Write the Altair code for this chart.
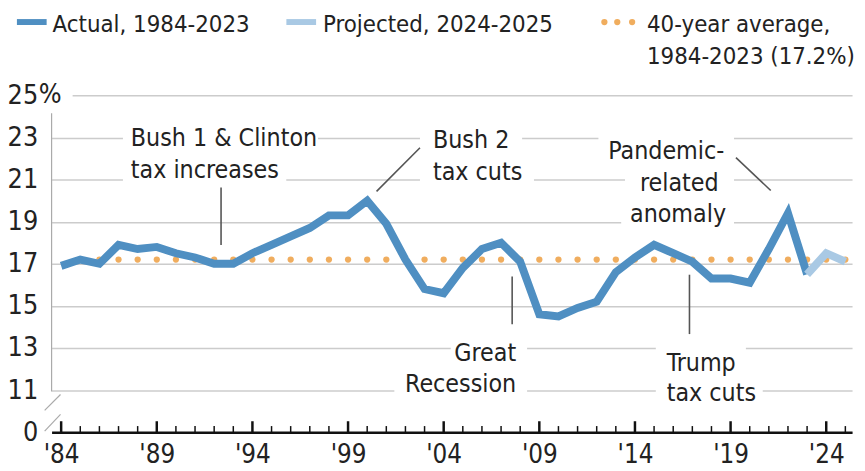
import altair as alt
import pandas as pd

# ---- data ----
years = list(range(1984, 2024))
actual = [16.9, 17.2, 17.0, 17.9, 17.7, 17.8, 17.5, 17.3, 17.0, 17.0,
          17.5, 17.9, 18.3, 18.7, 19.3, 19.3, 20.0, 18.9, 17.2, 15.8,
          15.6, 16.8, 17.7, 18.0, 17.1, 14.6, 14.5, 14.9, 15.2, 16.6,
          17.3, 17.9, 17.5, 17.1, 16.3, 16.3, 16.1, 17.7, 19.4, 16.5]
proj_years = [2023, 2024, 2025]
projected = [16.5, 17.5, 17.1]
avg_years = list(range(1986, 2026))
avg_value = 17.2
y_tick_values = [9, 11, 13, 15, 17, 19, 21, 23, 25]
x_label_years = [1984, 1989, 1994, 1999, 2004, 2009, 2014, 2019, 2024]
tick_years = list(range(1984, 2026))

# annotations (text, year, value)
ann_left_text = ["Bush 1 & Clinton", "tax increases", "Bush 2", "tax cuts",
                 "Pandemic-", "related", "anomaly", "Trump", "tax cuts"]
ann_left_x = [1987.64, 1987.64, 2003.44, 2003.44, 2012.60, 2014.26, 2013.74, 2015.66, 2015.66]
ann_left_y = [22.6, 21.09, 22.51, 21.0, 21.99, 20.48, 18.98, 11.92, 10.46]
ann_right_text = ["Great", "Recession"]
ann_right_x = [2007.79, 2007.79]
ann_right_y = [12.39, 10.93]

# white backgrounds that break gridlines behind labels
bg_x1 = [1987.23, 2002.76, 2012.09, 1987.23, 2002.76, 2013.48, 2013.28, 2004.37, 2015.09, 2001.42, 2015.09, 1983.5]
bg_x2 = [1997.43, 2008.10, 2019.18, 1995.77, 2008.72, 2019.18, 2019.18, 2008.36, 2019.80, 2008.36, 2020.68, 1984.6]
bg_y = [23, 23, 23, 21, 21, 21, 19, 13, 13, 11, 11, 25]

# pointer lines
ptr_x1 = [1992.36, 2002.76, 2019.28, 2007.58, 2016.85]
ptr_x2 = [1992.36, 2000.49, 2021.10, 2007.58, 2016.85]
ptr_y1 = [20.62, 22.51, 22.04, 16.39, 16.48]
ptr_y2 = [17.89, 20.44, 20.48, 14.13, 13.66]

C_ACT = "#4f8fc2"
C_PROJ = "#a9c9e4"
C_AVG = "#f0ad5e"
C_TXT = "#222222"
C_GRID = "#cccccc"
FONT = "'Liberation Sans Narrow', 'DejaVu Sans Condensed', 'Roboto Condensed', Lato, sans-serif"
FS = 25
FS_LEG = 24
FS_AX = 27
FS_XL = 26

df_act = pd.DataFrame({"year": years, "val": actual})
df_proj = pd.DataFrame({"year": proj_years, "val": projected})
df_avg = pd.DataFrame({"year": avg_years, "val": [avg_value] * len(avg_years)})
df_ticks = pd.DataFrame({"year": tick_years})
df_ticks["major"] = (df_ticks["year"] - 1984) % 5 == 0
df_ticks["val"] = 9.0
df_ticks["top"] = df_ticks["major"].map({True: 9.52, False: 9.29})
df_ann_l = pd.DataFrame({"t": ann_left_text, "year": ann_left_x, "val": ann_left_y})
df_ann_r = pd.DataFrame({"t": ann_right_text, "year": ann_right_x, "val": ann_right_y})
df_bg = pd.DataFrame({"year": bg_x1, "year2": bg_x2,
                      "val": [v - 0.35 for v in bg_y], "val2": [v + 0.35 for v in bg_y]})
df_ptr = pd.DataFrame({"year": ptr_x1, "year2": ptr_x2, "val": ptr_y1, "val2": ptr_y2})
dummy = pd.DataFrame({"a": [0]})

xs = alt.Scale(domain=[1983.5, 2025.35], nice=False, zero=False)
ys = alt.Scale(domain=[9, 25], nice=False, zero=False)

x_axis = alt.Axis(values=x_label_years,
                  labelExpr="\"'\" + substring(toString(datum.value), 2)",
                  ticks=False, grid=False, domainColor="#111111", domainWidth=2.5,
                  labelFontSize=FS_XL, labelPadding=10, labelColor=C_TXT, labelFont=FONT,
                  title=None)
y_axis = alt.Axis(values=y_tick_values,
                  labelExpr="datum.value == 9 ? '0' : format(datum.value, 'd')",
                  ticks=False, domain=False, grid=True, gridColor=C_GRID, gridWidth=1.5,
                  labelPadding=14, labelFontSize=FS_AX, labelColor=C_TXT, labelFont=FONT,
                  title=None)

def X(f="year"):
    return alt.X(f"{f}:Q", scale=xs, axis=x_axis)

def Y(f="val"):
    return alt.Y(f"{f}:Q", scale=ys, axis=y_axis)

avg_layer = alt.Chart(df_avg).mark_circle(size=40, opacity=1, color=C_AVG).encode(x=X(), y=Y())
bg_layer = alt.Chart(df_bg).mark_rect(color="white").encode(
    x=X(), x2="year2:Q", y=Y(), y2="val2:Q")
ptr_layer = alt.Chart(df_ptr).mark_rule(color="#555555", strokeWidth=1.6).encode(
    x=X(), x2="year2:Q", y=Y(), y2="val2:Q")
act_layer = alt.Chart(df_act).mark_line(color=C_ACT, strokeWidth=8).encode(x=X(), y=Y())
proj_layer = alt.Chart(df_proj).mark_line(color=C_PROJ, strokeWidth=8).encode(x=X(), y=Y())
tick_layer = alt.Chart(df_ticks).mark_rule(color="#111111").encode(
    x=X(), y=Y(), y2="top:Q",
    strokeWidth=alt.condition("datum.major", alt.value(2.5), alt.value(1.5)))
ann_l_layer = alt.Chart(df_ann_l).mark_text(align="left", baseline="alphabetic",
                                            font=FONT, fontSize=FS, color=C_TXT).encode(
    x=X(), y=Y(), text="t:N")
ann_r_layer = alt.Chart(df_ann_r).mark_text(align="right", baseline="alphabetic",
                                            font=FONT, fontSize=FS, color=C_TXT).encode(
    x=X(), y=Y(), text="t:N")

# y axis line with break marks
yline = alt.Chart(dummy).mark_rule(color="#aaaaaa", strokeWidth=1.2).encode(
    x=alt.value(0), y=alt.value(18), y2=alt.value(299))
slash1 = alt.Chart(dummy).mark_rule(color="#aaaaaa", strokeWidth=1.2).encode(
    x=alt.value(-7), x2=alt.value(9), y=alt.value(318), y2=alt.value(302))
slash2 = alt.Chart(dummy).mark_rule(color="#aaaaaa", strokeWidth=1.2).encode(
    x=alt.value(-7), x2=alt.value(9), y=alt.value(339), y2=alt.value(322))
pct = alt.Chart(pd.DataFrame({"val": [25]})).mark_text(
    align="left", baseline="middle", font=FONT, fontSize=FS_AX, color=C_TXT).encode(
    x=alt.value(-13), y=Y(), text=alt.value("%"))

# legend
def ltext(t, x, y):
    return alt.Chart(dummy).mark_text(align="left", baseline="alphabetic", font=FONT,
                                      fontSize=FS_LEG, color=C_TXT).encode(
        x=alt.value(x), y=alt.value(y), text=alt.value(t))

def lswatch(c, x1, x2):
    return alt.Chart(dummy).mark_rule(color=c, strokeWidth=6).encode(
        x=alt.value(x1), x2=alt.value(x2), y=alt.value(-74))

def ldot(x):
    return alt.Chart(dummy).mark_circle(size=40, opacity=1, color=C_AVG).encode(
        x=alt.value(x), y=alt.value(-74))

legend = [lswatch(C_ACT, -35, -5), ltext("Actual, 1984-2023", 1, -64),
          lswatch(C_PROJ, 237, 267), ltext("Projected, 2024-2025", 274, -64),
          ldot(558), ldot(571), ldot(586),
          ltext("40-year average,", 601, -64), ltext("1984-2023 (17.2%)", 601, -32)]

chart = alt.layer(
    avg_layer, bg_layer, ptr_layer, act_layer, proj_layer, tick_layer,
    ann_l_layer, ann_r_layer, yline, slash1, slash2, pct, *legend
).properties(
    width=808, height=340,
    padding={"left": 44, "top": 86, "right": 5, "bottom": 37},
    autosize=alt.AutoSizeParams(type="none"),
    background="white",
).configure_view(stroke=None)

chart.save("out.html", embed_options={"renderer": "svg", "actions": False})
